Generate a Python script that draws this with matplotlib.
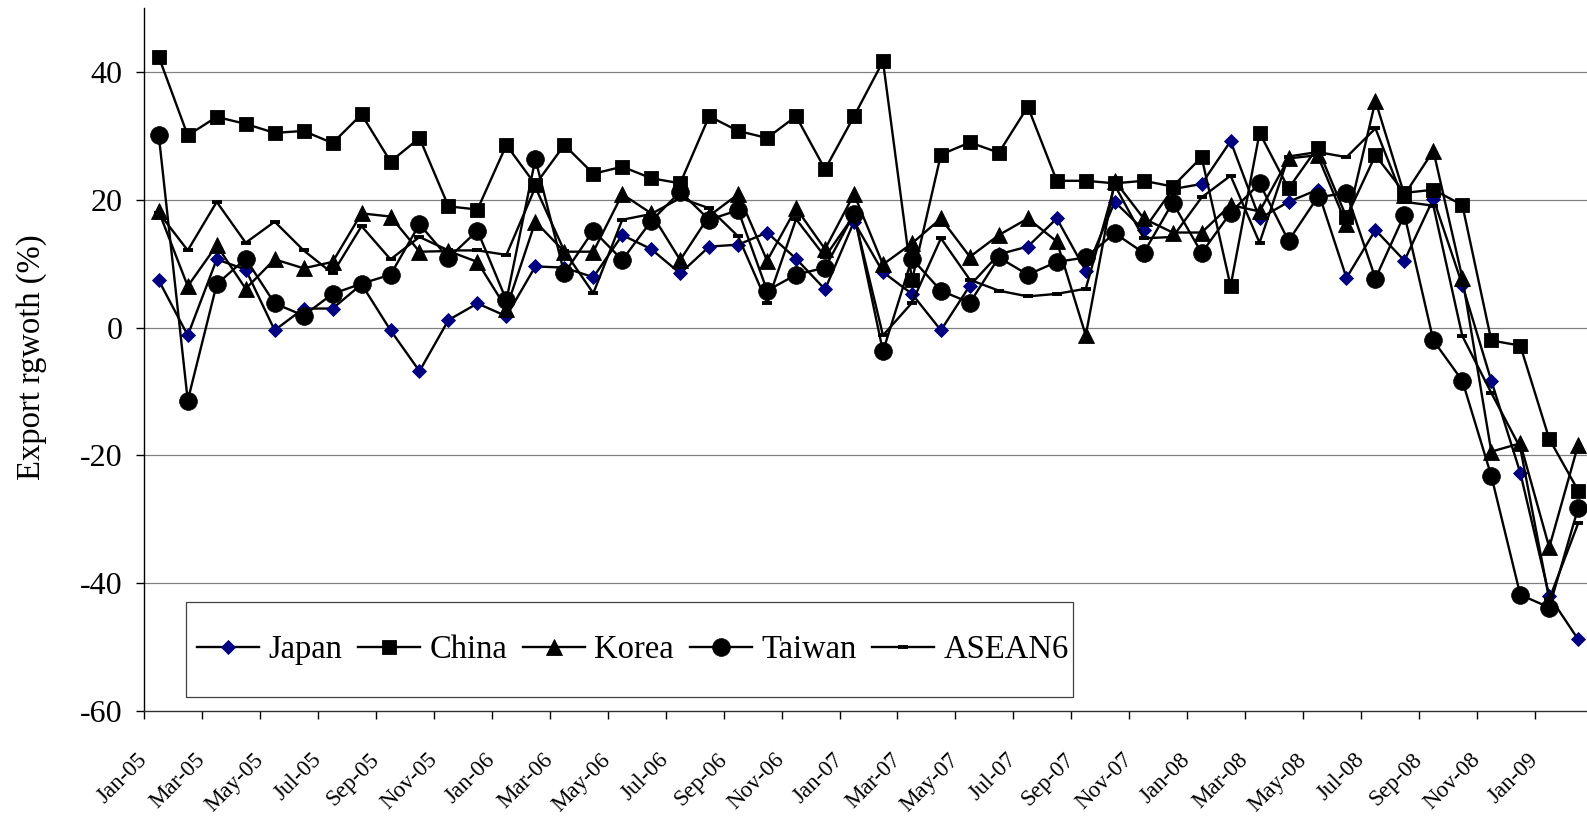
import matplotlib
matplotlib.use('Agg')
import matplotlib.pyplot as plt
from matplotlib.patches import Rectangle

# ---------------- data (monthly export growth, %, Jan-05 .. Feb-09) ----------------
japan = [7.4, -1.2, 10.7, 9.1, -0.4, 3.0, 3.0, 6.8, -0.4, -6.8,
         1.2, 3.8, 1.8, 9.6, 9.4, 7.9, 14.5, 12.3, 8.5, 12.7,
         13.0, 14.9, 10.8, 6.0, 16.6, 8.7, 5.3, -0.4, 6.6, 11.5,
         12.7, 17.1, 8.9, 19.7, 15.3, 21.7, 22.5, 29.2, 17.1, 19.7,
         21.6, 7.8, 15.3, 10.5, 20.2, 6.7, -8.3, -22.7, -42.0, -48.8]
china = [42.4, 30.1, 33.0, 31.9, 30.5, 30.8, 28.9, 33.4, 26.0, 29.7,
         19.0, 18.5, 28.6, 22.4, 28.6, 24.1, 25.2, 23.4, 22.6, 33.1,
         30.8, 29.7, 33.1, 24.8, 33.1, 41.7, 7.4, 27.1, 29.0, 27.4,
         34.6, 23.0, 23.0, 22.6, 23.0, 22.1, 26.7, 6.5, 30.5, 21.8,
         28.2, 17.3, 27.0, 21.1, 21.6, 19.2, -2.0, -2.8, -17.4, -25.5]
korea = [18.2, 6.5, 12.9, 6.1, 10.7, 9.3, 10.3, 17.9, 17.4, 11.9,
         12.0, 10.3, 3.0, 16.6, 11.9, 11.9, 20.9, 17.9, 10.6, 17.5,
         20.9, 10.5, 18.7, 12.3, 20.9, 9.9, 13.2, 17.1, 11.1, 14.5,
         17.1, 13.5, -1.2, 23.0, 17.1, 14.9, 14.9, 19.2, 18.2, 26.5,
         27.0, 16.2, 35.5, 20.8, 27.7, 7.8, -19.4, -18.1, -34.4, -18.3]
taiwan = [30.1, -11.4, 6.8, 10.8, 3.8, 1.9, 5.3, 6.9, 8.3, 16.2,
          10.9, 15.2, 4.3, 26.4, 8.5, 15.2, 10.6, 16.7, 21.3, 16.9,
          18.4, 5.8, 8.3, 9.4, 17.8, -3.7, 10.8, 5.8, 3.9, 11.0,
          8.3, 10.3, 11.0, 14.8, 11.7, 19.6, 11.7, 18.0, 22.6, 13.6,
          20.4, 21.1, 7.7, 17.7, -2.0, -8.3, -23.2, -41.8, -43.8, -28.2]
asean6 = [18.0, 12.1, 19.7, 13.3, 16.6, 12.1, 8.5, 15.9, 10.7, 14.2,
          12.1, 12.1, 11.4, 22.0, 12.0, 5.4, 16.9, 17.8, 20.3, 18.7,
          14.3, 3.9, 17.0, 11.1, 17.6, -1.2, 3.9, 14.0, 7.5, 5.8,
          4.9, 5.3, 6.1, 22.3, 14.0, 14.2, 20.4, 23.8, 13.3, 26.8,
          27.5, 26.7, 31.2, 19.7, 19.1, -1.3, -10.2, -18.8, -42.5, -30.6]

series_names = ['Japan', 'China', 'Korea', 'Taiwan', 'ASEAN6']

tick_labels = ['Jan-05', 'Mar-05', 'May-05', 'Jul-05', 'Sep-05', 'Nov-05',
               'Jan-06', 'Mar-06', 'May-06', 'Jul-06', 'Sep-06', 'Nov-06',
               'Jan-07', 'Mar-07', 'May-07', 'Jul-07', 'Sep-07', 'Nov-07',
               'Jan-08', 'Mar-08', 'May-08', 'Jul-08', 'Sep-08', 'Nov-08',
               'Jan-09']
y_ticks = [-60, -40, -20, 0, 20, 40]
grid_levels = [-40, -20, 0, 20, 40]

# ---------------- figure ----------------
plt.rcParams['font.family'] = ['Liberation Serif', 'DejaVu Serif']

W, H = 1587, 817
fig = plt.figure(figsize=(W / 100, H / 100), dpi=100)
ax = fig.add_axes([144.3 / W, (H - 711) / H, (1592.7 - 144.3) / W, (711 - 8.3) / H])

x = list(range(len(japan)))
lw = 1.7
ax.plot(x, japan, color='black', lw=lw, marker='D', ms=7.4,
        mfc='#000080', mec='#000080', mew=0.6, label=series_names[0], zorder=3)
ax.plot(x, china, color='black', lw=lw, marker='s', ms=9.4,
        mfc='black', mec='black', mew=0.6, label=series_names[1], zorder=3)
ax.plot(x, korea, color='black', lw=lw, marker='^', ms=11,
        mfc='black', mec='black', mew=0.6, label=series_names[2], zorder=3)
ax.plot(x, taiwan, color='black', lw=lw, marker='o', ms=12.8,
        mfc='black', mec='black', mew=0.5, label=series_names[3], zorder=3)
ax.plot(x, asean6, color='black', lw=lw, marker='_', ms=7.8,
        mec='black', mew=2.8, label=series_names[4], zorder=3)

ax.set_xlim(-0.5, len(japan) - 0.5)
ax.set_ylim(-60, 50)

for g in grid_levels:
    ax.axhline(g, color='#808080', lw=0.9, zorder=1)

ax.set_yticks(y_ticks)
ax.set_yticklabels([str(v) for v in y_ticks])
tick_pos = [i - 0.5 for i in range(0, 2 * len(tick_labels), 2)]
ax.set_xticks(tick_pos)
ax.set_xticklabels(tick_labels, rotation=45, ha='right', va='center',
                   rotation_mode='anchor', fontsize=16.6)
ax.tick_params(axis='x', length=5.8, width=1, pad=27, direction='out', colors='black')
ax.tick_params(axis='y', length=5.8, width=1, pad=10, direction='out', labelsize=23)

for s in ['top', 'right']:
    ax.spines[s].set_visible(False)
ax.spines['left'].set_color('black')
ax.spines['left'].set_linewidth(1.0)
ax.spines['bottom'].set_color('#303030')
ax.spines['bottom'].set_linewidth(1.0)

ax.set_ylabel('Export rgwoth (%)', fontsize=23.5)
ax.yaxis.set_label_coords(-0.0777, 0.503)
ax.yaxis.label.set_va('center')

# legend
handles, labels = ax.get_legend_handles_labels()
fig.legend(handles, labels, loc='center', bbox_to_anchor=(633 / W, 1 - 650 / H),
           ncol=5, frameon=False, fontsize=23.5, handlelength=1.9,
           handletextpad=0.28, columnspacing=0.49, borderpad=0)
fig.add_artist(Rectangle((185.7 / W, (H - 697.3) / H), (1072.7 - 185.7) / W,
                         (697.3 - 601.7) / H, transform=fig.transFigure,
                         fill=False, edgecolor='#404040', lw=0.9))

fig.savefig('out.png', dpi=100)
